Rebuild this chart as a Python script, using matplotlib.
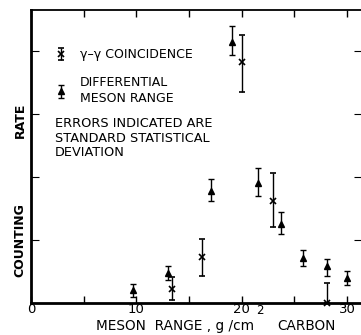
import matplotlib
matplotlib.use('Agg')
import matplotlib.pyplot as plt

# differential meson range (triangles)
range_x = [9.7, 13.05, 17.05, 19.05, 21.6, 23.7, 25.85, 28.1, 30.05]
range_y = [0.20, 0.47, 1.78, 4.15, 1.90, 1.25, 0.71, 0.58, 0.40]
range_lo = [0.10, 0.10, 0.16, 0.22, 0.20, 0.16, 0.12, 0.15, 0.11]
range_hi = [0.10, 0.11, 0.18, 0.24, 0.24, 0.20, 0.13, 0.12, 0.11]

# gamma-gamma coincidence (crosses)
coinc_x = [13.4, 16.2, 20.0, 22.95, 28.1]
coinc_y = [0.23, 0.73, 3.82, 1.62, 0.0]
coinc_lo = [0.18, 0.30, 0.47, 0.42, 0.0]
coinc_hi = [0.19, 0.29, 0.43, 0.44, 0.31]

x_ticks = [0, 5, 10, 15, 20, 25, 30]
x_labels = ['0', '', '10', '', '20', '', '30']
y_ticks = [1, 2, 3, 4]

W, H = 361, 335
fig = plt.figure(figsize=(W / 100, H / 100), dpi=100)
ax = fig.add_axes([31 / W, 32 / H, (362 - 31) / W, (303 - 10) / H])

e1 = ax.errorbar(coinc_x, coinc_y, yerr=[coinc_lo, coinc_hi], fmt='x', color='k',
                 ms=4, mew=1.2, elinewidth=1.0, capsize=2.5, capthick=1.0)
e2 = ax.errorbar(range_x, range_y, yerr=[range_lo, range_hi], fmt='^', color='k',
                 ms=5, elinewidth=1.0, capsize=2.5, capthick=1.0)
for c in (e1, e2):
    c.lines[0].set_clip_on(False)
    for art in list(c.lines[1]) + list(c.lines[2]):
        art.set_clip_on(False)

ax.set_xlim(0, 31.43)
ax.set_ylim(0, 4.65)
ax.set_xticks(x_ticks)
ax.set_xticklabels(x_labels, fontsize=9.5)
ax.set_yticks(y_ticks)
ax.set_yticklabels([])
ax.tick_params(axis='x', direction='in', length=5, width=1.0, top=True, pad=0)
ax.tick_params(axis='y', direction='in', length=6, width=0.8, right=True)
for s in ['left', 'bottom']:
    ax.spines[s].set_linewidth(2.0)
ax.spines['top'].set_linewidth(1.3)
ax.spines['right'].set_linewidth(1.0)

leg = ax.legend([e1, e2], ['\u03b3\u2013\u03b3 COINCIDENCE', 'DIFFERENTIAL\nMESON RANGE'],
                loc='upper left', bbox_to_anchor=(50 / W, 1 - 42 / H),
                bbox_transform=fig.transFigure, frameon=False, fontsize=9,
                handlelength=0.8, handletextpad=1.1, labelspacing=1.2, borderpad=0)
leg.get_texts()[1].set_linespacing(1.3)

fig.text(55 / W, 1 - 138 / H, 'ERRORS INDICATED ARE\nSTANDARD STATISTICAL\nDEVIATION',
         fontsize=9.3, va='center', ha='left', linespacing=1.15)

fig.text(20 / W, 1 - 120 / H, 'RATE', rotation=90, fontsize=9,
         fontweight='bold', ha='center', va='center')
fig.text(20 / W, 1 - 240 / H, 'COUNTING', rotation=90, fontsize=9,
         fontweight='bold', ha='center', va='center')

# x axis title, with the superscript of cm2 sitting up among the tick labels
fig.text(254 / W, 2 / H, 'MESON  RANGE , g /cm', fontsize=9.8, ha='right', va='bottom')
fig.text(256 / W, 1 - 311 / H, '2', fontsize=8.5, ha='left', va='center')
fig.text(277 / W, 2 / H, 'CARBON', fontsize=9.8, ha='left', va='bottom')

fig.savefig('out.png', dpi=100)
